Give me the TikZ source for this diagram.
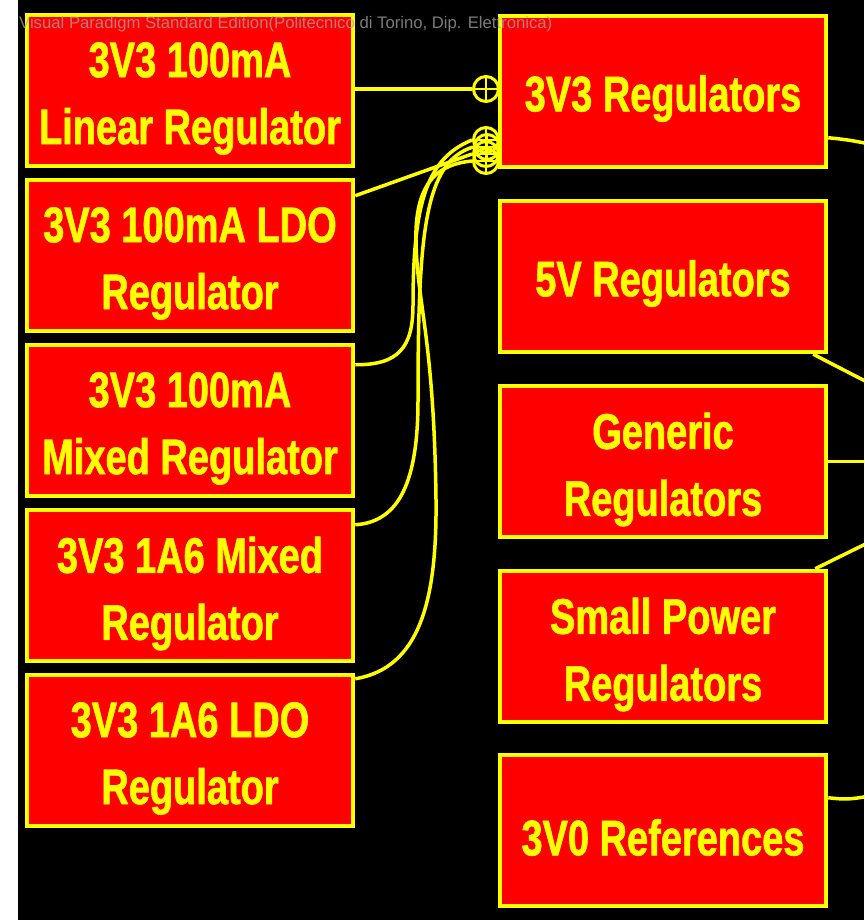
\documentclass[tikz,border=0pt]{standalone}
\usepackage{fontspec}
\newfontfamily\regfont{Liberation Sans}[FakeStretch=0.76, FakeBold=1.2]
\newfontfamily\wmfont{Liberation Sans}
\definecolor{regred}{RGB}{255,0,0}
\definecolor{regyel}{RGB}{255,255,0}
\definecolor{wmgray}{RGB}{165,165,165}
\begin{document}
\begin{tikzpicture}[x=1pt,y=-1pt,
  regbox/.style={draw=regyel, fill=regred, line width=4.5pt, minimum width=326pt, minimum height=151pt, inner sep=0pt},
  regtext/.style={text=regyel, font=\regfont\bfseries\fontsize{50}{67}\selectfont, align=center, inner sep=0pt},
  link/.style={draw=regyel, line width=3.5pt},
  nest/.style={circle, draw=regyel, line width=3pt, minimum size=25pt, inner sep=0pt,
    path picture={\draw[regyel, line width=2.5pt] (path picture bounding box.north) -- (path picture bounding box.south) (path picture bounding box.west) -- (path picture bounding box.east);}}
]
\useasboundingbox (0,0) rectangle (864,920);
\fill[white] (0,0) rectangle (864,920);
\fill[black] (18,0) rectangle (864,920);
\begin{scope}
\clip (0,0) rectangle (864,920);
% ends of the connectors that leave the picture
\coordinate (o1) at (900,150);
\coordinate (o2) at (900,399);
\coordinate (o3) at (900,461.5);
\coordinate (o4) at (900,527);
\coordinate (o5) at (900,790);
% boxes
\node[regbox] (L1) at (190,90.5) {};
\node[regbox] (L2) at (190,255.5) {};
\node[regbox] (L3) at (190,420.5) {};
\node[regbox] (L4) at (190,585.5) {};
\node[regbox] (L5) at (190,750.5) {};
\node[regbox] (R1) at (663,91.5) {};
\node[regbox] (R2) at (663,276.5) {};
\node[regbox] (R3) at (663,461.5) {};
\node[regbox] (R4) at (663,646.5) {};
\node[regbox] (R5) at (663,830.5) {};
\node[regtext] (L1t) at ([yshift=-8pt]L1.center) {3V3 100mA\\Linear Regulator};
\node[regtext] (L2t) at ([yshift=-8pt]L2.center) {3V3 100mA LDO\\Regulator};
\node[regtext] (L3t) at ([yshift=-8pt]L3.center) {3V3 100mA\\Mixed Regulator};
\node[regtext] (L4t) at ([yshift=-8pt]L4.center) {3V3 1A6 Mixed\\Regulator};
\node[regtext] (L5t) at ([yshift=-8pt]L5.center) {3V3 1A6 LDO\\Regulator};
\node[regtext] (R1t) at ([yshift=-7pt]R1.center) {3V3 Regulators};
\node[regtext] (R2t) at ([yshift=-7pt]R2.center) {5V Regulators};
\node[regtext] (R3t) at ([yshift=-8pt]R3.center) {Generic\\Regulators};
\node[regtext] (R4t) at ([yshift=-8pt]R4.center) {Small Power\\Regulators};
\node[regtext] (R5t) at ([yshift=-7pt]R5.center) {3V0 References};
\draw[link] ([yshift=-124pt]R1.north east) .. controls (850,140) .. (o1);
\draw[link] ([xshift=-15pt]R2.south east) -- (o2);
\draw[link] (R3.east) -- (o3);
\draw[link] ([xshift=-13pt]R4.north east) -- (o4);
\draw[link] ([yshift=-45pt]R5.north east) .. controls (850,800) .. (o5);
% containment symbols
\node[nest] (n1) at (486,89) {};
\node[nest] (n2) at (486,140) {};
\node[nest] (n3) at (487,147) {};
\node[nest] (n4) at (486,154) {};
\node[nest] (n5) at (486,161) {};
% left connectors
\draw[link] (L1.east |- n1.west) -- (n1.west);
\draw[link] ([yshift=-18pt]L2.north east) -- (n4.west);
\draw[link] ([yshift=-22pt]L3.north east) .. controls (398,365) and (413,348) .. (413,305)
   .. controls (413,200) and (428,158) .. (n2.west);
\draw[link] ([yshift=-17pt]L4.north east) .. controls (400,522) and (418,480) .. (418,400)
   .. controls (418,230) and (425,162) .. (n3.west);
\draw[link] ([yshift=-6pt]L5.north east) .. controls (420,668) and (437,600) .. (436,500)
   .. controls (434,330) and (415,300) .. (416,230) .. controls (418,180) and (440,164) .. (n5.west);
% watermark
\node[anchor=base west, inner sep=0pt, text=wmgray, opacity=0.75, font=\wmfont\fontsize{16.7}{18}\selectfont] (wm) at (19,29) {Visual Paradigm Standard Edition(Politecnico di Torino, Dip. Elettronica)};
\end{scope}
\end{tikzpicture}
\end{document}
